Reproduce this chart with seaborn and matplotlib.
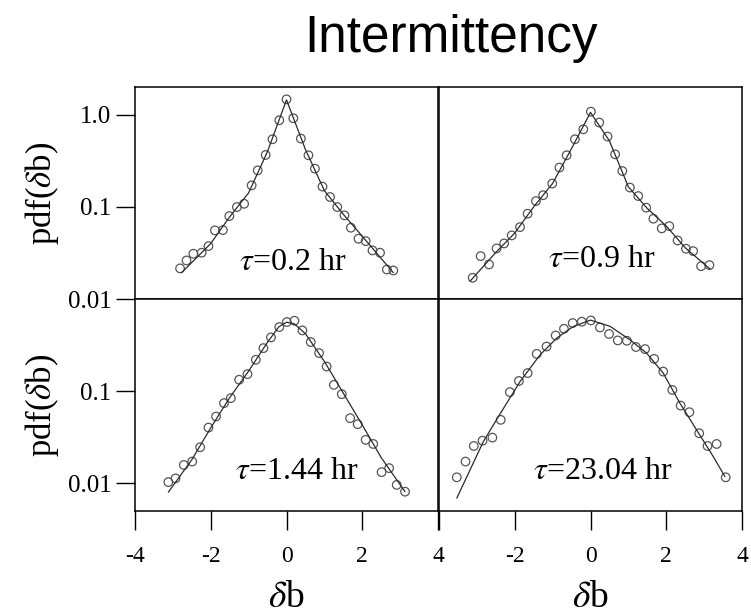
import matplotlib
matplotlib.use("Agg")
import matplotlib.pyplot as plt
import pandas as pd
import seaborn as sns

# Normalised increments delta-b and their pdf, one set per time lag tau
tau_labels = ["0.2", "0.9", "1.44", "23.04"]

db_a = [-2.81, -2.64, -2.46, -2.24, -2.06, -1.89, -1.68, -1.51, -1.31, -1.12, -0.92,
        -0.76, -0.55, -0.37, -0.19, 0.00, 0.18, 0.38, 0.58, 0.75, 0.95, 1.15, 1.34,
        1.53, 1.70, 1.90, 2.09, 2.27, 2.47, 2.65, 2.82]
pdf_a = [0.0215, 0.0262, 0.0310, 0.0318, 0.0375, 0.0556, 0.0560, 0.0794, 0.0995, 0.108,
         0.171, 0.249, 0.366, 0.542, 0.871, 1.47, 0.916, 0.551, 0.363, 0.260, 0.166,
         0.128, 0.0995, 0.0809, 0.0594, 0.0451, 0.0425, 0.0337, 0.0318, 0.0209, 0.0204]
fit_db_a = [-2.77, -2.0, -1.5, -1.0, -0.5, 0.0, 0.5, 1.0, 1.5, 2.0, 2.82]
fit_pdf_a = [0.0193, 0.040, 0.078, 0.142, 0.40, 1.45, 0.42, 0.150, 0.083, 0.048, 0.0193]

db_b = [-3.11, -2.90, -2.68, -2.48, -2.28, -2.08, -1.86, -1.66, -1.44, -1.25, -1.01,
        -0.82, -0.63, -0.41, -0.19, 0.01, 0.23, 0.45, 0.65, 0.84, 1.04, 1.26, 1.47,
        1.66, 1.88, 2.08, 2.30, 2.52, 2.71, 2.92, 3.14]
pdf_b = [0.0170, 0.0292, 0.0237, 0.0354, 0.0401, 0.0490, 0.0603, 0.0843, 0.1156, 0.134,
         0.179, 0.267, 0.363, 0.542, 0.695, 1.08, 0.823, 0.580, 0.372, 0.245, 0.162,
         0.131, 0.098, 0.0744, 0.0584, 0.0618, 0.0432, 0.0351, 0.0331, 0.0227, 0.0233]
fit_db_b = [-3.18, -2.5, -2.0, -1.5, -1.0, -0.5, 0.0, 0.5, 1.0, 1.5, 2.0, 2.5, 3.16]
fit_pdf_b = [0.0156, 0.032, 0.052, 0.100, 0.180, 0.43, 1.06, 0.52, 0.165, 0.096, 0.062,
             0.036, 0.0211]

db_c = [-3.12, -2.93, -2.71, -2.49, -2.28, -2.06, -1.86, -1.65, -1.47, -1.25, -1.03,
        -0.81, -0.61, -0.41, -0.19, 0.01, 0.21, 0.42, 0.64, 0.86, 1.06, 1.25, 1.46,
        1.68, 1.88, 2.09, 2.29, 2.51, 2.71, 2.91, 3.13]
pdf_c = [0.0103, 0.0113, 0.0158, 0.0172, 0.0246, 0.0402, 0.0530, 0.0741, 0.0839, 0.133,
         0.153, 0.219, 0.293, 0.383, 0.496, 0.562, 0.581, 0.456, 0.341, 0.259, 0.185,
         0.117, 0.0927, 0.0509, 0.0438, 0.0296, 0.0267, 0.0132, 0.0146, 0.0096, 0.0081]
fit_db_c = [-3.12, -2.5, -2.0, -1.5, -1.0, -0.5, -0.2, 0.0, 0.2, 0.5, 1.0, 1.5, 2.0,
            2.5, 3.13]
fit_pdf_c = [0.0080, 0.018, 0.040, 0.085, 0.165, 0.34, 0.50, 0.56, 0.54, 0.42, 0.21,
             0.095, 0.043, 0.019, 0.0081]

db_d = [-3.53, -3.30, -3.08, -2.85, -2.59, -2.37, -2.13, -1.89, -1.66, -1.42, -1.16,
        -0.92, -0.70, -0.47, -0.23, 0.01, 0.25, 0.49, 0.72, 0.96, 1.20, 1.44, 1.68,
        1.92, 2.16, 2.38, 2.61, 2.87, 3.09, 3.33, 3.57]
pdf_d = [0.0116, 0.0172, 0.0254, 0.0290, 0.0313, 0.0488, 0.0975, 0.129, 0.157, 0.254,
         0.305, 0.402, 0.475, 0.548, 0.567, 0.585, 0.491, 0.417, 0.355, 0.352, 0.301,
         0.286, 0.224, 0.163, 0.103, 0.0697, 0.0591, 0.0349, 0.0254, 0.0267, 0.0116]
fit_db_d = [-3.53, -2.83, -2.43, -1.86, -1.33, -0.89, -0.45, 0.0, 0.52, 1.04,
            1.48, 1.92, 2.36, 2.80, 3.24, 3.55]
fit_pdf_d = [0.0069, 0.0283, 0.053, 0.127, 0.248, 0.377, 0.504, 0.59, 0.504,
             0.361, 0.259, 0.157, 0.0741, 0.0380, 0.0195, 0.0118]

x_ticks = [-4, -2, 0, 2, 4]
y_ticks_top = [1.0, 0.1, 0.01]
y_ticks_bottom = [0.1, 0.01]

sns.set_style("white")
plt.rcParams["font.family"] = ["Liberation Serif", "DejaVu Serif"]
plt.rcParams["mathtext.fontset"] = "stix"
plt.rcParams["text.color"] = "black"
plt.rcParams["axes.labelcolor"] = "black"

W, H = 751, 615
fig = plt.figure(figsize=(W / 100, H / 100), dpi=100)


def px_axes(x0, y0, x1, y1):
    return fig.add_axes([x0 / W, 1 - y1 / H, (x1 - x0) / W, (y1 - y0) / H])


panels = [
    (px_axes(135, 87, 438, 299), db_a, pdf_a, fit_db_a, fit_pdf_a, (0.01, 2.0), 0.522, 0.17),
    (px_axes(439, 87, 742, 299), db_b, pdf_b, fit_db_b, fit_pdf_b, (0.01, 2.0), 0.538, 0.184),
    (px_axes(135, 299, 438, 511), db_c, pdf_c, fit_db_c, fit_pdf_c, (0.005, 1.0), 0.535, 0.184),
    (px_axes(439, 299, 742, 511), db_d, pdf_d, fit_db_d, fit_pdf_d, (0.005, 1.0), 0.541, 0.184),
]

for i, (ax, xs, ys, fx, fy, ylim, tx, ty) in enumerate(panels):
    pts = pd.DataFrame({"db": xs, "pdf": ys})
    fit = pd.DataFrame({"db": fx, "pdf": fy})
    ax.set_yscale("log")
    sns.lineplot(data=fit, x="db", y="pdf", ax=ax, color="#2a2a2a", lw=0.9,
                 sort=False, estimator=None)
    sns.scatterplot(data=pts, x="db", y="pdf", ax=ax, marker="o", s=38,
                    facecolors="none", edgecolors="#555555", linewidth=0.9)
    ax.set_xlim(-4, 4)
    ax.set_ylim(*ylim)
    ax.minorticks_off()
    ax.set_xlabel("")
    ax.set_ylabel("")
    for sp in ax.spines.values():
        sp.set_linewidth(1.1)
        sp.set_color("black")
    ax.tick_params(direction="out", length=14, width=1.0, colors="black",
                   labelsize=17, bottom=True, left=True)
    ax.tick_params(axis="y", labelsize=18, pad=3)
    ax.tick_params(axis="x", pad=11)

    bottom = i >= 2
    left = i % 2 == 0
    if bottom:
        ax.set_xticks(x_ticks)
        if left:
            ax.set_xticklabels([str(t) for t in x_ticks])
        else:
            ax.set_xticklabels([""] + [str(t) for t in x_ticks[1:]])
        ax.set_xlabel(r"$\delta$b", fontsize=27, va="center")
        ax.xaxis.set_label_coords(0.5, -0.41)
    else:
        ax.set_xticks([])
    if left:
        yt = y_ticks_top if i == 0 else y_ticks_bottom
        ax.set_yticks(yt)
        ax.set_yticklabels(["1.0" if t == 1.0 else f"{t:g}" for t in yt])
        ax.set_ylabel(r"pdf($\delta$b)", fontsize=25, va="center")
        ax.yaxis.set_label_coords(-0.307, 0.5)
    else:
        ax.set_yticks([])

    ax.text(tx, ty, r"$\tau$=" + tau_labels[i] + " hr", transform=ax.transAxes,
            ha="center", va="center", fontsize=23)

fig.text(451 / W, 1 - 52 / H, "Intermittency", ha="center", va="baseline",
         fontsize=37, color="black", family=["Liberation Sans", "DejaVu Sans"])

fig.savefig("out.png", dpi=100)
